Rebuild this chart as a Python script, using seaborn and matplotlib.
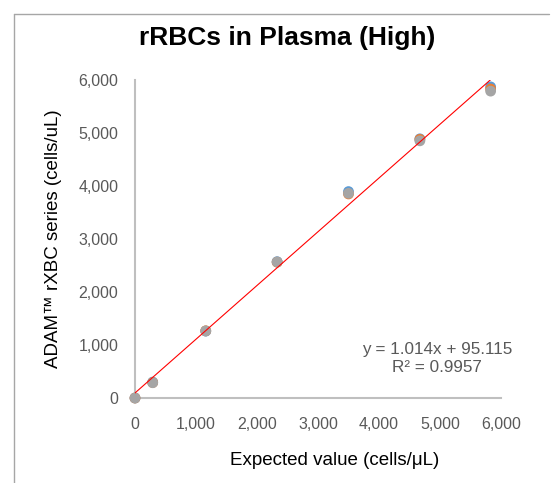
import matplotlib
matplotlib.use("Agg")
import matplotlib.pyplot as plt
import seaborn as sns
import pandas as pd
import numpy as np
from matplotlib.lines import Line2D

sns.set_theme(style="white")
plt.rcParams['font.family'] = ['Liberation Sans', 'DejaVu Sans']

expected = [0, 290, 1160, 2330, 3500, 4670, 5830]
series_blue = [0, 300, 1262, 2572, 3895, 4890, 5870]
series_orange = [0, 292, 1268, 2562, 3850, 4880, 5830]
series_gray = [0, 288, 1265, 2566, 3862, 4852, 5790]
series_names = ["Series 1", "Series 2", "Series 3"]
colors = ["#5B9BD5", "#ED7D31", "#A5A5A5"]
slope = 1.014
intercept = 95.115
r2 = 0.9957
ticks = [0, 1000, 2000, 3000, 4000, 5000, 6000]

df = pd.DataFrame({
    "x": expected * 3,
    "y": series_blue + series_orange + series_gray,
    "s": [series_names[0]] * 7 + [series_names[1]] * 7 + [series_names[2]] * 7,
})

fig = plt.figure(figsize=(5.55, 4.83), dpi=100)
ax = fig.add_axes([135/555, 1-398/483, (501-135)/555, (398-80)/483])

sns.scatterplot(data=df, x="x", y="y", hue="s", palette=colors, s=60,
                edgecolor="none", legend=False, ax=ax, zorder=3, clip_on=False)

xs = np.array([min(expected), max(expected)])
sns.lineplot(x=xs, y=slope*xs + intercept, color="#FF0000", lw=0.8, ax=ax, zorder=4)

ax.set_xlim(0, 6000)
ax.set_ylim(0, 6000)
ax.set_xticks(ticks)
ax.set_yticks(ticks)
ax.set_xticklabels([f"{t:,}" for t in ticks])
ax.set_yticklabels([f"{t:,}" for t in ticks])
ax.tick_params(axis='both', length=0, labelsize=11.5, labelcolor="#595959")
ax.tick_params(axis='x', pad=14)
ax.tick_params(axis='y', pad=12)
for sp in ["top", "right"]:
    ax.spines[sp].set_visible(False)
for sp in ["left", "bottom"]:
    ax.spines[sp].set_color("#BFBFBF")
    ax.spines[sp].set_linewidth(1.5)
ax.grid(False)

ax.set_xlabel("Expected value (cells/μL)", fontsize=13.5, color="#000000")
ax.xaxis.set_label_coords((335-135)/366, -(452-398)/318)
ax.set_ylabel("ADAM™ rXBC series (cells/uL)", fontsize=13.5, color="#000000", labelpad=12)

ax.text(4950, 915, f"y = {slope}x + {intercept}", ha="center", va="center",
        fontsize=12.3, color="#595959")
ax.text(4950, 575, f"R² = {r2}", ha="center", va="center",
        fontsize=12.3, color="#595959")

fig.text(287/555, 1-38/483, "rRBCs in Plasma (High)", ha="center", va="center",
         fontsize=19, fontweight="bold", color="#000000")

# outer chart frame
fig.add_artist(Line2D([14/555, 14/555], [0, 1-14/483], transform=fig.transFigure,
                      color="#A6A6A6", lw=1))
fig.add_artist(Line2D([14/555, 549/555], [1-14/483, 1-14/483], transform=fig.transFigure,
                      color="#A6A6A6", lw=1))

fig.savefig("out.png", dpi=100)
